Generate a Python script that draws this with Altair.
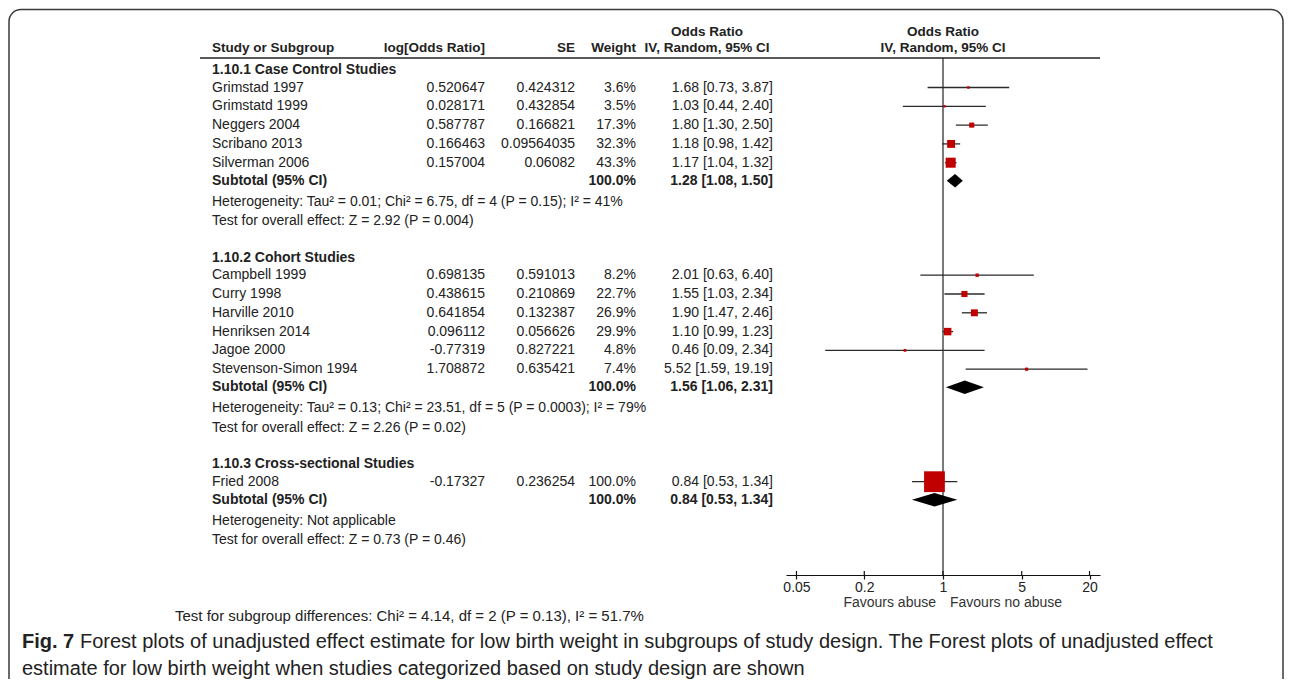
import altair as alt
import pandas as pd

# ---------------- data ----------------
group_titles = ["1.10.1 Case Control Studies", "1.10.2 Cohort Studies", "1.10.3 Cross-sectional Studies"]
study_group = [0, 0, 0, 0, 0, 1, 1, 1, 1, 1, 1, 2]
studies = ["Grimstad 1997", "Grimstatd 1999", "Neggers 2004", "Scribano 2013", "Silverman 2006",
           "Campbell 1999", "Curry 1998", "Harville 2010", "Henriksen 2014", "Jagoe 2000",
           "Stevenson-Simon 1994", "Fried 2008"]
log_or = [0.520647, 0.028171, 0.587787, 0.166463, 0.157004,
          0.698135, 0.438615, 0.641854, 0.096112, -0.77319, 1.708872, -0.17327]
se = [0.424312, 0.432854, 0.166821, 0.09564035, 0.06082,
      0.591013, 0.210869, 0.132387, 0.056626, 0.827221, 0.635421, 0.236254]
weight = [3.6, 3.5, 17.3, 32.3, 43.3, 8.2, 22.7, 26.9, 29.9, 4.8, 7.4, 100.0]
odds = [1.68, 1.03, 1.80, 1.18, 1.17, 2.01, 1.55, 1.90, 1.10, 0.46, 5.52, 0.84]
ci_low = [0.73, 0.44, 1.30, 0.98, 1.04, 0.63, 1.03, 1.47, 0.99, 0.09, 1.59, 0.53]
ci_high = [3.87, 2.40, 2.50, 1.42, 1.32, 6.40, 2.34, 2.46, 1.23, 2.34, 19.19, 1.34]

sub_odds = [1.28, 1.56, 0.84]
sub_low = [1.08, 1.06, 0.53]
sub_high = [1.50, 2.31, 1.34]
sub_weight = ["100.0%", "100.0%", "100.0%"]

heterogeneity = ["Heterogeneity: Tau² = 0.01; Chi² = 6.75, df = 4 (P = 0.15); I² = 41%",
                 "Heterogeneity: Tau² = 0.13; Chi² = 23.51, df = 5 (P = 0.0003); I² = 79%",
                 "Heterogeneity: Not applicable"]
overall_effect = ["Test for overall effect: Z = 2.92 (P = 0.004)",
                  "Test for overall effect: Z = 2.26 (P = 0.02)",
                  "Test for overall effect: Z = 0.73 (P = 0.46)"]
subgroup_test = "Test for subgroup differences: Chi² = 4.14, df = 2 (P = 0.13), I² = 51.7%"

axis_ticks = [0.05, 0.2, 1, 5, 20]
favours_left = "Favours abuse"
favours_right = "Favours no abuse"
caption_bold = "Fig. 7"
caption_line1 = "Forest plots of unadjusted effect estimate for low birth weight in subgroups of study design. The Forest plots of unadjusted effect"
caption_line2 = "estimate for low birth weight when studies categorized based on study design are shown"

# ---------------- layout (row positions) ----------------
FONT = "Liberation Sans"
FS = 14          # table text
FSH = 13.5       # bold column headers
INK = "#222222"
W, H = 1276, 567          # plot area: image x 8..1284, y 8..575 (axis line at 575)
OFF = 8                    # page margin

ROW = 18.8
y = 70.0
group_y, study_y, sub_y, het_y, test_y = [], [], [], [], []
for g in range(len(group_titles)):
    group_y.append(y)
    y += 17.5
    first = True
    for s in study_group:
        if s != g:
            continue
        if not first:
            y += ROW
        study_y.append(y)
        first = False
    y += 18
    sub_y.append(y)
    y += 21
    het_y.append(y)
    y += 19.5
    test_y.append(y)
    y += 36.5

yscale = alt.Scale(domain=[OFF, OFF + H], reverse=True, zero=False, nice=False)
half_decades = 1.394
xscale = alt.Scale(type="log", domain=[10 ** -half_decades, 10 ** half_decades],
                   range=[786 - OFF, 1100 - OFF], nice=False, zero=False)
xaxis = alt.Axis(values=axis_ticks, format="~g", title=None, grid=False, tickSize=4,
                 tickColor="#111", tickWidth=1.2, domainColor="#111", domainWidth=1.2,
                 labelFont=FONT, labelFontSize=FS, labelColor="#222", labelPadding=1,
                 labelFlush=False, labelOverlap=False)

def X(field):
    return alt.X(field, type="quantitative", scale=xscale, axis=xaxis)

def Y(field="y"):
    return alt.Y(field, type="quantitative", scale=yscale, axis=None)

# ---------------- tables ----------------
study_df = pd.DataFrame({
    "y": study_y, "name": studies,
    "logor": [str(v) for v in log_or], "se": [str(v) for v in se],
    "w": [f"{v:.1f}%" for v in weight], "weight": weight,
    "odds": odds, "lo": ci_low, "hi": ci_high,
    "ortxt": [f"{o:.2f} [{l:.2f}, {h:.2f}]" for o, l, h in zip(odds, ci_low, ci_high)],
})
group_df = pd.DataFrame({"y": group_y, "text": group_titles})
sub_df = pd.DataFrame({
    "y": sub_y, "label": ["Subtotal (95% CI)"] * 3, "w": sub_weight,
    "ortxt": [f"{o:.2f} [{l:.2f}, {h:.2f}]" for o, l, h in zip(sub_odds, sub_low, sub_high)],
})
notes_df = pd.DataFrame({"y": het_y + test_y, "text": heterogeneity + overall_effect})

DH = 6.75  # half height of diamonds
dia_rows = []
for g in range(3):
    dia_rows += [
        {"g": g, "x": sub_low[g], "y0": sub_y[g], "y1": sub_y[g]},
        {"g": g, "x": sub_odds[g], "y0": sub_y[g] - DH, "y1": sub_y[g] + DH},
        {"g": g, "x": sub_high[g], "y0": sub_y[g], "y1": sub_y[g]},
    ]
dia_df = pd.DataFrame(dia_rows)

def txt(df, field, x, align, bold=False, size=FS, color=INK):
    return alt.Chart(df).mark_text(
        align=align, baseline="middle", font=FONT, fontSize=size,
        fontWeight="bold" if bold else "normal", color=color
    ).encode(x=alt.value(x - OFF), y=Y(), text=alt.Text(field, type="nominal"))

def label(text, x, yy, align, bold=False, size=FS, color=INK):
    return txt(pd.DataFrame({"y": [yy], "t": [text]}), "t", x, align, bold, size, color)

one = pd.DataFrame({"v": [1]})

frame = alt.Chart(one).mark_rect(
    fill=None, stroke="#3a3a3a", strokeWidth=1.5, cornerRadius=12
).encode(x=alt.value(1), x2=alt.value(W - 1), y=alt.value(1.5), y2=alt.value(H + 140))

head_rule = alt.Chart(one).mark_rule(color="#222", strokeWidth=1.5).encode(
    x=alt.value(200 - OFF), x2=alt.value(1100 - OFF), y=alt.value(58 - OFF))

null_line = alt.Chart(one).mark_rule(color="#333", strokeWidth=1.3).encode(
    x=X("v"), y=alt.value(58 - OFF), y2=alt.value(H))

ci = alt.Chart(study_df).mark_rule(color="#2a2a2a", strokeWidth=1.3).encode(
    x=X("lo"), x2="hi", y=Y())

squares = alt.Chart(study_df).transform_calculate(
    area="pow(1.8 + 0.19 * datum.weight, 2)"
).mark_square(filled=True, color="#c00000", opacity=1).encode(
    x=X("odds"), y=Y(), size=alt.Size("area:Q", scale=None))

diamonds = alt.Chart(dia_df).mark_area(color="black", orient="vertical", opacity=1).encode(
    x=X("x"), y=Y("y0"), y2="y1", detail="g:N")

tick_up = alt.Chart(pd.DataFrame({"t": axis_ticks})).mark_rule(color="#111", strokeWidth=1.2).encode(
    x=X("t"), y=alt.value(H - 4), y2=alt.value(H))

layers = [frame, head_rule, null_line, ci, squares, diamonds, tick_up]

# headers
layers += [
    label("Odds Ratio", 707, 32, "center", True, FSH),
    label("Odds Ratio", 943, 32, "center", True, FSH),
    label("Study or Subgroup", 212, 48, "left", True, FSH),
    label("log[Odds Ratio]", 485, 48, "right", True, FSH),
    label("SE", 575, 48, "right", True, FSH),
    label("Weight", 636, 48, "right", True, FSH),
    label("IV, Random, 95% CI", 707, 48, "center", True, FSH),
    label("IV, Random, 95% CI", 943, 48, "center", True, FSH),
]
# body
layers += [
    txt(group_df, "text", 212, "left", True),
    txt(study_df, "name", 212, "left"),
    txt(study_df, "logor", 485, "right"),
    txt(study_df, "se", 575, "right"),
    txt(study_df, "w", 636, "right"),
    txt(study_df, "ortxt", 773, "right"),
    txt(sub_df, "label", 212, "left", True),
    txt(sub_df, "w", 636, "right", True),
    txt(sub_df, "ortxt", 773, "right", True),
    txt(notes_df, "text", 212, "left"),
]
# bottom texts
layers += [
    label(favours_left, 936, 603, "right", color="#333"),
    label(favours_right, 950, 603, "left", color="#333"),
    label(subgroup_test, 175, 616, "left", size=15),
    label(caption_bold, 22, 642, "left", True, 20, "#222"),
    label(caption_line1, 80, 642, "left", False, 20, "#222"),
    label(caption_line2, 22, 669, "left", False, 20, "#222"),
]

chart = alt.layer(*layers).properties(
    width=W, height=H,
    autosize=alt.AutoSizeParams(type="none"),
    padding={"left": 0, "top": 0, "right": 0, "bottom": 104},
    background="white",
).configure_view(stroke=None)

chart.save("out.html", embed_options={"renderer": "svg", "actions": False})
